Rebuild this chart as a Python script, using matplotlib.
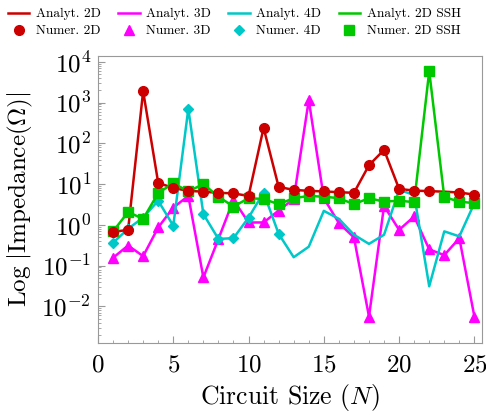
import numpy as np
import matplotlib
matplotlib.use("Agg")
from matplotlib import pyplot as plt
from matplotlib.ticker import FixedLocator, FixedFormatter, LogLocator, NullFormatter, MultipleLocator

plt.rcParams['font.family'] = 'cmr10'
plt.rcParams['mathtext.fontset'] = 'cm'
plt.rcParams['axes.formatter.use_mathtext'] = True

N = np.arange(1, 26)

z2d = [0.67, 0.75, 1900, 10.7, 8.0, 6.8, 6.5, 6.1, 5.9, 5.1, 240, 8.5, 7.2,
       6.8, 6.6, 6.3, 6.1, 29, 69, 7.6, 6.9, 6.7, 6.5, 6.2, 5.5]
z3d = [0.155, 0.31, 0.17, 0.86, 2.65, 5.1, 0.051, 0.45, 4.1, 1.14, 1.14, 2.24, 4.3,
       1150, 4.5, 1.1, 0.49, 0.0056, 2.9, 0.75, 1.6, 0.25, 0.18, 0.47, 0.0056]
z4d = [0.36, 0.8, 1.5, 3.9, 0.95, 700, 1.83, 0.45, 0.47, 1.5, 6.2, 0.6, 0.16,
       0.29, 2.2, 1.4, 0.57, 0.34, 0.57, 7.2, 5.4, 0.031, 0.69, 0.52, 3.4]
zssh = [0.69, 2.05, 1.4, 6.0, 10.5, 6.6, 10, 4.9, 2.8, 4.5, 4.3, 3.2, 4.5,
        5.1, 4.9, 4.5, 3.2, 4.5, 3.7, 3.9, 3.6, 5900, 4.8, 3.7, 3.4]

# numerical points available
n2d = list(range(1, 23)) + [24, 25]
n3d = list(range(1, 26))
n4d = list(range(1, 13))
nssh = list(range(1, 26))

red = '#cc0000'
mag = '#ff00ff'
cyan = '#00c8c8'
green = '#00c800'

fig = plt.figure(figsize=(4.86, 4.17), dpi=100)
ax = fig.add_axes([0.2016, 0.1775, 0.79, 0.688])

def pick(z, idx):
    return [z[i - 1] for i in idx]

ax.plot(N, z2d, color=red, lw=1.8, label='Analyt. 2D')
ax.plot(n2d, pick(z2d, n2d), 'o', color=red, ms=7, label='Numer. 2D', zorder=5)
ax.plot(N, z3d, color=mag, lw=1.8, label='Analyt. 3D')
ax.plot(n3d, pick(z3d, n3d), '^', color=mag, ms=7.5, label='Numer. 3D')
ax.plot(N, z4d, color=cyan, lw=1.8, label='Analyt. 4D')
ax.plot(n4d, pick(z4d, n4d), 'D', color=cyan, ms=5.5, label='Numer. 4D')
ax.plot(N, zssh, color=green, lw=1.8, label='Analyt. 2D SSH')
ax.plot(nssh, pick(zssh, nssh), 's', color=green, ms=6.5, label='Numer. 2D SSH')

ax.set_yscale('log')
ax.set_xlim(0, 25.5)
ax.set_ylim(10**-2.9, 10**4.14)

ax.yaxis.set_major_locator(FixedLocator([1e-2, 1e-1, 1, 10, 100, 1e3, 1e4]))
ax.yaxis.set_major_formatter(FixedFormatter([r'$10^{-2}$', r'$10^{-1}$', r'$10^{0}$',
                                             r'$10^{1}$', r'$10^{2}$', r'$10^{3}$', r'$10^{4}$']))
ax.yaxis.set_minor_locator(LogLocator(base=10, subs=np.arange(2, 10), numticks=20))
ax.yaxis.set_minor_formatter(NullFormatter())
ax.xaxis.set_major_locator(MultipleLocator(5))
ax.xaxis.set_minor_locator(MultipleLocator(1))

for s in ax.spines.values():
    s.set_color('#999999')
ax.tick_params(which='both', direction='in', color='#999999', labelsize=18,
               top=False, right=False)
ax.tick_params(which='major', length=5)
ax.tick_params(which='minor', length=2.5)
ax.tick_params(axis='x', pad=8)
ax.tick_params(axis='y', pad=5)

ax.set_xlabel(r'Circuit Size $(N)$', fontsize=18.5, labelpad=4)
ax.set_ylabel(r'$\mathrm{Log}\ |\mathrm{Impedance}(\Omega)|$', fontsize=18, labelpad=5)

fig.legend(loc='upper left', bbox_to_anchor=(0.0, 1.0), ncol=4, frameon=False,
           fontsize=9.6, handlelength=1.6, columnspacing=1.3, handletextpad=0.5,
           borderaxespad=0.2, labelspacing=0.35)

plt.savefig('out.png', dpi=100)
